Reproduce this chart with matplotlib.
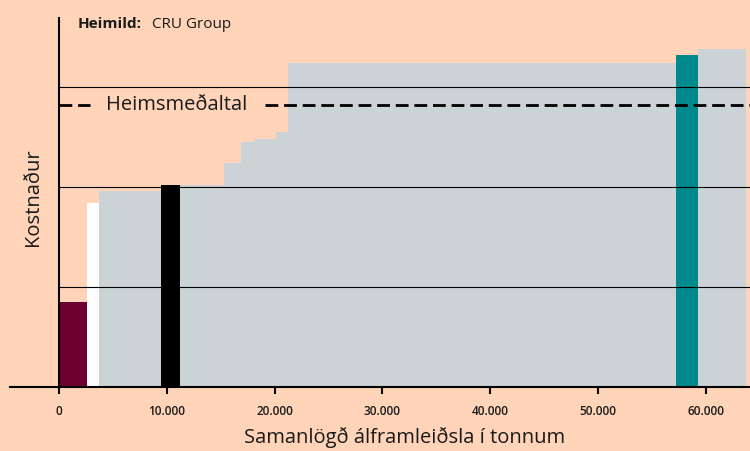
import matplotlib.pyplot as plt

# step segments of the cost curve (cumulative output in tonnes, relative cost)
seg_start = [0, 2570, 3710, 9460, 11220, 15306, 16911, 18117, 20130, 21243, 57235, 59249]
seg_end = [2570, 3710, 9460, 11220, 15306, 16911, 18117, 20130, 21243, 57235, 59249, 63729]
seg_cost = [0.85, 1.84, 1.96, 2.02, 2.02, 2.24, 2.45, 2.48, 2.55, 3.24, 3.32, 3.38]
seg_color = ['#6b0030', '#ffffff', '#cbd3d6', '#000000', '#cbd3d6', '#cbd3d6',
             '#cbd3d6', '#cbd3d6', '#cbd3d6', '#cbd3d6', '#00898d', '#cbd3d6']

world_avg = 2.82
grid_levels = [1, 2, 3]
x_ticks = [0, 10000, 20000, 30000, 40000, 50000, 60000]
x_tick_labels = ['0', '10.000', '20.000', '30.000', '40.000', '50.000', '60.000']

bg = '#ffd4b9'
txt = '#1a1a1a'
plt.rcParams['font.family'] = ['Open Sans', 'DejaVu Sans']

fig = plt.figure(figsize=(7.5, 4.51), dpi=100, facecolor=bg)
ax = fig.add_axes([10 / 750, 64 / 451, 740 / 750, 369 / 451])
ax.set_facecolor(bg)

widths = [e - s for s, e in zip(seg_start, seg_end)]
ax.bar(seg_start, seg_cost, width=widths, align='edge', color=seg_color,
       linewidth=0, zorder=1)

xmax = 64100
ax.set_xlim(-4545, xmax)
ax.set_ylim(0, 3.69)

ax.hlines(grid_levels, 0, xmax, colors='black', linewidth=0.8, zorder=2)

# world average dashed line, broken where the label sits
dash = (0, (4.6, 2.1))
ax.hlines(world_avg, 0, 2900, colors='black', linewidth=2, linestyles=dash, zorder=3)
ax.hlines(world_avg, 19100, xmax, colors='black', linewidth=2, linestyles=dash, zorder=3)
ax.text(4400, world_avg, 'Heimsmeðaltal', fontsize=14.5, va='center', ha='left',
        color=txt, zorder=4)

for s in ['top', 'right']:
    ax.spines[s].set_visible(False)
ax.spines['left'].set_position(('data', 0))
ax.spines['left'].set_linewidth(1.5)
ax.spines['bottom'].set_linewidth(1.5)
ax.spines['left'].set_zorder(5)
ax.spines['bottom'].set_zorder(5)

ax.set_yticks([])
ax.set_xticks(x_ticks)
ax.set_xticklabels(x_tick_labels, fontsize=8.5, fontweight='semibold', color=txt)
ax.tick_params(axis='x', direction='out', length=5, width=1.5, pad=8)

fig.text(405 / 750, 1 - 438 / 451, 'Samanlögð álframleiðsla í tonnum', fontsize=14.5,
         ha='center', va='center', color=txt)
fig.text(33 / 750, 1 - 197 / 451, 'Kostnaður', fontsize=14.5, rotation=90,
         ha='center', va='center', color=txt)
fig.text(78 / 750, 1 - 24 / 451, 'Heimild:', fontsize=11, fontweight='bold',
         ha='left', va='center', color=txt)
fig.text(152 / 750, 1 - 24 / 451, 'CRU Group', fontsize=11,
         ha='left', va='center', color=txt)

fig.savefig('out.png', dpi=100, facecolor=bg)
